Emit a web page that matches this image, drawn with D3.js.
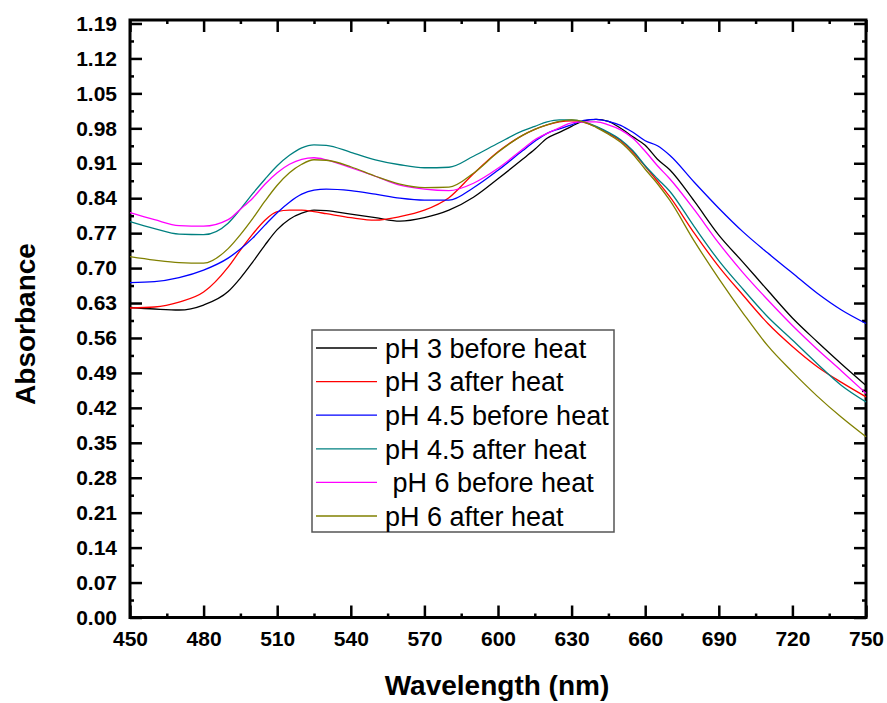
<!DOCTYPE html>
<html>
<head>
<meta charset="utf-8">
<script src="https://cdn.jsdelivr.net/npm/d3@7"></script>
<style>
body { margin: 0; background: #fff; }
text { font-family: "Liberation Sans", Arial, sans-serif; }
</style>
</head>
<body>
<div id="chart"></div>
<script>
// Wavelength grid (nm) shared by all spectra
var wavelength = [450, 460, 470, 480, 490, 495, 500, 505, 510, 515, 520, 525, 530, 540, 550, 560, 570, 580, 590, 600,
                  610, 615, 620, 625, 630, 635, 640, 645, 650, 655, 660, 665, 670, 680, 690, 700, 710, 720, 730, 740, 750];

// Absorbance
var ph3Before = [0.621, 0.618, 0.616, 0.626, 0.653, 0.680, 0.712, 0.746, 0.777, 0.798, 0.810, 0.816, 0.815, 0.808, 0.801, 0.794, 0.801, 0.816, 0.842, 0.879,
                 0.918, 0.938, 0.960, 0.972, 0.984, 0.995, 0.998, 0.994, 0.980, 0.963, 0.946, 0.918, 0.897, 0.834, 0.766, 0.711, 0.655, 0.600, 0.553, 0.508, 0.465];
var ph3After = [0.620, 0.622, 0.632, 0.652, 0.702, 0.736, 0.768, 0.796, 0.813, 0.816, 0.816, 0.813, 0.809, 0.801, 0.796, 0.803, 0.816, 0.841, 0.889, 0.933,
                0.966, 0.978, 0.987, 0.993, 0.995, 0.992, 0.983, 0.970, 0.955, 0.932, 0.904, 0.874, 0.843, 0.770, 0.703, 0.645, 0.589, 0.543, 0.503, 0.471, 0.442];
var ph45Before = [0.671, 0.673, 0.681, 0.696, 0.720, 0.738, 0.760, 0.786, 0.811, 0.832, 0.848, 0.856, 0.858, 0.855, 0.848, 0.840, 0.836, 0.836, 0.861, 0.896,
                  0.935, 0.954, 0.970, 0.979, 0.987, 0.996, 0.998, 0.994, 0.986, 0.972, 0.955, 0.945, 0.926, 0.872, 0.820, 0.772, 0.730, 0.690, 0.650, 0.616, 0.589];
var ph45After = [0.793, 0.779, 0.768, 0.767, 0.790, 0.818, 0.849, 0.878, 0.905, 0.926, 0.941, 0.947, 0.946, 0.932, 0.917, 0.907, 0.901, 0.902, 0.924, 0.950,
                 0.975, 0.984, 0.993, 0.997, 0.997, 0.993, 0.984, 0.972, 0.957, 0.935, 0.905, 0.879, 0.854, 0.783, 0.715, 0.657, 0.602, 0.556, 0.509, 0.465, 0.432];
var ph6Before = [0.811, 0.797, 0.785, 0.784, 0.797, 0.818, 0.840, 0.868, 0.891, 0.908, 0.918, 0.921, 0.917, 0.901, 0.884, 0.866, 0.858, 0.855, 0.870, 0.900,
                 0.938, 0.957, 0.970, 0.981, 0.991, 0.993, 0.993, 0.987, 0.977, 0.960, 0.934, 0.905, 0.879, 0.817, 0.750, 0.690, 0.636, 0.585, 0.538, 0.494, 0.449];
var ph6After = [0.723, 0.716, 0.711, 0.710, 0.739, 0.767, 0.799, 0.834, 0.866, 0.891, 0.908, 0.917, 0.916, 0.903, 0.884, 0.868, 0.861, 0.862, 0.890, 0.932,
                0.966, 0.978, 0.987, 0.994, 0.997, 0.993, 0.982, 0.968, 0.952, 0.928, 0.898, 0.869, 0.836, 0.754, 0.679, 0.609, 0.544, 0.492, 0.444, 0.401, 0.362];

var seriesNames = ["pH 3 before heat", "pH 3 after heat", "pH 4.5 before heat", "pH 4.5 after heat", " pH 6 before heat", "pH 6 after heat"];
var seriesValues = [ph3Before, ph3After, ph45Before, ph45After, ph6Before, ph6After];
var seriesColors = ["#000000", "#ff0000", "#0000ff", "#008080", "#ff00ff", "#808000"];

// Axis ticks
var xTicks = [450, 480, 510, 540, 570, 600, 630, 660, 690, 720, 750];
var yTicks = [0.00, 0.07, 0.14, 0.21, 0.28, 0.35, 0.42, 0.49, 0.56, 0.63, 0.70, 0.77, 0.84, 0.91, 0.98, 1.05, 1.12, 1.19];

var w = 887, h = 703;
var mLeft = 130, mRight = 866, mTop = 20, mBottom = 617.5;
var yMax = 1.197;

var svg = d3.select("#chart").append("svg")
            .attr("width", w)
            .attr("height", h);

var x = d3.scaleLinear().domain([450, 750]).range([mLeft, mRight]);
var y = d3.scaleLinear().domain([0, yMax]).range([mBottom, mTop]);

// minor ticks sit halfway between majors
var xMinor = d3.range(465, 750, 30);
var yMinor = yTicks.map(function(d) { return d + 0.035; }).filter(function(d) { return d < yMax; });

function styleAxis(sel) {
  sel.select(".domain").remove();
  sel.selectAll(".tick line").attr("stroke", "#000").attr("stroke-width", 2.5);
  sel.selectAll("text")
     .attr("fill", "#000")
     .attr("font-size", "21px")
     .attr("font-weight", "bold")
     .attr("font-family", "'Liberation Sans', Arial, sans-serif");
}

// bottom
svg.append("g").attr("transform", "translate(0," + mBottom + ")")
   .call(d3.axisBottom(x).tickValues(xTicks).tickSizeInner(-12).tickSizeOuter(0).tickPadding(14).tickFormat(d3.format("d")))
   .call(styleAxis);
svg.append("g").attr("transform", "translate(0," + mBottom + ")")
   .call(d3.axisBottom(x).tickValues(xMinor).tickSizeInner(-4).tickSizeOuter(0).tickFormat(""))
   .call(styleAxis);
// top
svg.append("g").attr("transform", "translate(0," + mTop + ")")
   .call(d3.axisTop(x).tickValues(xTicks).tickSizeInner(-12).tickSizeOuter(0).tickFormat(""))
   .call(styleAxis);
svg.append("g").attr("transform", "translate(0," + mTop + ")")
   .call(d3.axisTop(x).tickValues(xMinor).tickSizeInner(-4).tickSizeOuter(0).tickFormat(""))
   .call(styleAxis);
// left
svg.append("g").attr("transform", "translate(" + mLeft + ",0)")
   .call(d3.axisLeft(y).tickValues(yTicks).tickSizeInner(-12).tickSizeOuter(0).tickPadding(13).tickFormat(d3.format(".2f")))
   .call(styleAxis);
svg.append("g").attr("transform", "translate(" + mLeft + ",0)")
   .call(d3.axisLeft(y).tickValues(yMinor).tickSizeInner(-4).tickSizeOuter(0).tickFormat(""))
   .call(styleAxis);
// right
svg.append("g").attr("transform", "translate(" + mRight + ",0)")
   .call(d3.axisRight(y).tickValues(yTicks).tickSizeInner(-12).tickSizeOuter(0).tickFormat(""))
   .call(styleAxis);
svg.append("g").attr("transform", "translate(" + mRight + ",0)")
   .call(d3.axisRight(y).tickValues(yMinor).tickSizeInner(-4).tickSizeOuter(0).tickFormat(""))
   .call(styleAxis);

// frame
svg.append("rect")
   .attr("x", mLeft).attr("y", mTop)
   .attr("width", mRight - mLeft).attr("height", mBottom - mTop)
   .attr("fill", "none").attr("stroke", "#000").attr("stroke-width", 3);

// spectra
var line = d3.line()
             .x(function(d, i) { return x(wavelength[i]); })
             .y(function(d) { return y(d); })
             .curve(d3.curveMonotoneX);

svg.append("g").selectAll("path")
   .data(seriesValues)
   .enter().append("path")
   .attr("d", line)
   .attr("fill", "none")
   .attr("stroke", function(d, i) { return seriesColors[i]; })
   .attr("stroke-width", 1.3);

// legend
var lg = svg.append("g");
lg.append("rect")
  .attr("x", 312).attr("y", 330)
  .attr("width", 302).attr("height", 202)
  .attr("fill", "#fff").attr("stroke", "#555").attr("stroke-width", 1.5);

var rows = lg.selectAll(".row")
             .data(seriesNames)
             .enter().append("g")
             .attr("transform", function(d, i) { return "translate(0," + (348 + i * 33.6) + ")"; });
rows.append("line")
    .attr("x1", 316).attr("x2", 377)
    .attr("stroke", function(d, i) { return seriesColors[i]; })
    .attr("stroke-width", 1.3);
rows.append("text")
    .attr("x", 385).attr("dy", "0.36em")
    .attr("font-size", "27px")
    .style("white-space", "pre")
    .text(function(d) { return d; });

// axis titles
svg.append("text")
   .attr("x", 497).attr("y", 695)
   .attr("text-anchor", "middle")
   .attr("font-size", "28px").attr("font-weight", "bold")
   .text("Wavelength (nm)");

svg.append("text")
   .attr("transform", "translate(35,324) rotate(-90)")
   .attr("text-anchor", "middle")
   .attr("font-size", "28px").attr("font-weight", "bold")
   .text("Absorbance");
</script>
</body>
</html>
